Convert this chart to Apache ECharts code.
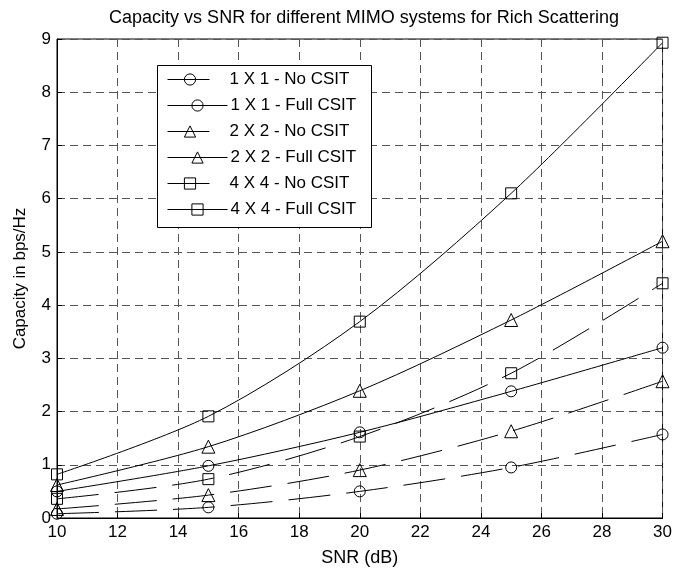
<!DOCTYPE html>
<html>
<head>
<meta charset="utf-8">
<script src="https://cdn.jsdelivr.net/npm/echarts@6/dist/echarts.min.js"></script>
<style>
  html, body { margin: 0; padding: 0; background: #fff; }
  #chart { width: 675px; height: 572px; }
</style>
</head>
<body>
<div id="chart"></div>
<script>
const snr = [10, 15, 20, 25, 30];

const names = [
  '1 X 1 - No CSIT', '1 X 1 - Full CSIT',
  '2 X 2 - No CSIT', '2 X 2 - Full CSIT',
  '4 X 4 - No CSIT', '4 X 4 - Full CSIT'
];

const cap1x1NoCsit = [0.08, 0.2, 0.5, 0.95, 1.57];
const cap1x1FullCsit = [0.5, 0.98, 1.61, 2.38, 3.2];
const cap2x2NoCsit = [0.17, 0.43, 0.9, 1.63, 2.57];
const cap2x2FullCsit = [0.62, 1.34, 2.39, 3.72, 5.2];
const cap4x4NoCsit = [0.36, 0.73, 1.53, 2.72, 4.41];
const cap4x4FullCsit = [0.82, 1.91, 3.69, 6.1, 8.93];

const allValues = [cap1x1NoCsit, cap1x1FullCsit, cap2x2NoCsit, cap2x2FullCsit, cap4x4NoCsit, cap4x4FullCsit];
const symbols = ['circle', 'circle', 'triangle', 'triangle', 'rect', 'rect'];
const symbolSizes = [11, 11, 13, 13, 11, 11];

const font = 'Arial, "Liberation Sans", sans-serif';

const series = allValues.map((vals, i) => {
  const dashed = i % 2 === 0;
  return {
    name: names[i],
    type: 'line',
    smooth: 0.3,
    data: vals.map((v, k) => [snr[k], v]),
    symbol: symbols[i],
    symbolSize: symbolSizes[i],
    showAllSymbol: true,
    itemStyle: { color: 'transparent', borderColor: '#000', borderWidth: 1 },
    lineStyle: {
      color: '#000',
      width: 1,
      type: dashed ? [42, 16] : 'solid'
    },
    emphasis: { disabled: true },
    z: 3
  };
});

// two interleaved legends: the dashed rows only show the first dash (shorter icon)
const legendCommon = {
  orient: 'vertical',
  left: 167,
  padding: 0,
  itemGap: 35,
  itemHeight: 14,
  selectedMode: false,
  lineStyle: { width: 1 },
  itemStyle: { borderWidth: 1 },
  textStyle: { fontFamily: font, fontSize: 17, color: '#000' },
  z: 5
};

const chart = echarts.init(document.getElementById('chart'));
chart.setOption({
  animation: false,
  backgroundColor: '#fff',
  title: {
    text: 'Capacity vs SNR for different MIMO systems for Rich Scattering',
    left: 359,
    textAlign: 'center',
    top: 4,
    textStyle: { fontFamily: font, fontSize: 18, fontWeight: 'normal', color: '#000' }
  },
  graphic: [{
    type: 'rect',
    shape: { x: 157.5, y: 65.5, width: 214, height: 162 },
    style: { fill: '#fff', stroke: '#000', lineWidth: 1 },
    z: 4
  }],
  legend: [
    Object.assign({}, legendCommon, {
      top: 71,
      itemWidth: 45,
      textStyle: Object.assign({}, legendCommon.textStyle, { padding: [0, 0, 0, 12] }),
      data: names.filter((n, i) => i % 2 === 0)
    }),
    Object.assign({}, legendCommon, {
      top: 97,
      itemWidth: 60,
      textStyle: Object.assign({}, legendCommon.textStyle, { padding: [0, 0, 0, -2] }),
      data: names.filter((n, i) => i % 2 === 1)
    })
  ],
  grid: {
    left: 57, right: 8, top: 39, bottom: 53,
    show: true,
    borderColor: '#000',
    borderWidth: 1
  },
  xAxis: {
    type: 'value',
    min: 10, max: 30, interval: 2,
    name: 'SNR (dB)',
    nameLocation: 'middle',
    nameGap: 31,
    nameTextStyle: { fontFamily: font, fontSize: 18, color: '#000' },
    axisLine: { lineStyle: { color: '#000' } },
    axisTick: { inside: true, length: 5, lineStyle: { color: '#000' } },
    axisLabel: { fontFamily: font, fontSize: 17, color: '#000', margin: 6 },
    splitLine: { show: true, lineStyle: { color: '#555', type: [8, 5], width: 1 } }
  },
  yAxis: {
    type: 'value',
    min: 0, max: 9, interval: 1,
    name: 'Capacity in bps/Hz',
    nameLocation: 'middle',
    nameGap: 28,
    nameTextStyle: { fontFamily: font, fontSize: 17, color: '#000' },
    axisLine: { show: true, lineStyle: { color: '#000' } },
    axisTick: { show: true, inside: true, length: 5, lineStyle: { color: '#000' } },
    axisLabel: { fontFamily: font, fontSize: 17, color: '#000', margin: 6 },
    splitLine: { show: true, lineStyle: { color: '#555', type: [8, 5], width: 1 } }
  },
  series: series
});
</script>
</body>
</html>
